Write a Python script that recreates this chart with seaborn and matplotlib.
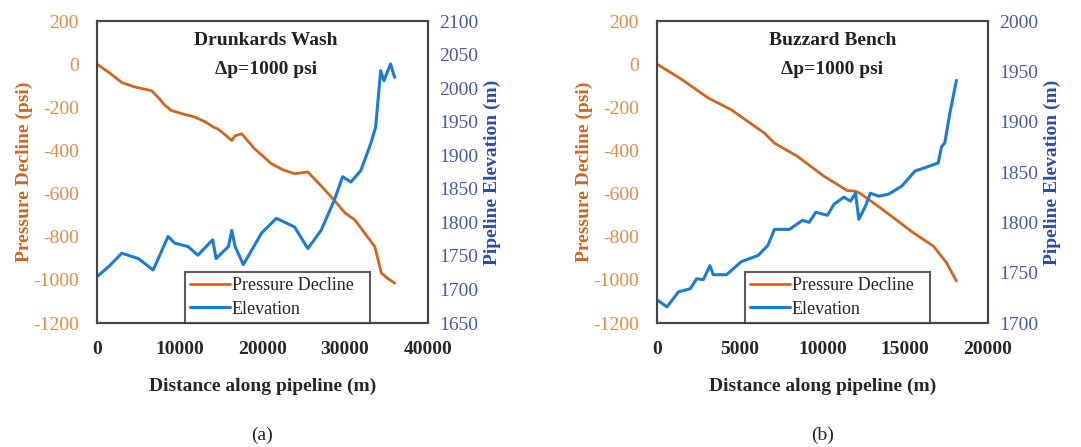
import pandas as pd
import seaborn as sns
import matplotlib.pyplot as plt

# Drunkards Wash (a)
dw_p_dist = [0, 1500, 3000, 4500, 6600, 7400, 8200, 9000, 10500, 11900, 13200, 14100, 14600,
             15200, 16300, 16700, 17500, 19000, 21100, 22500, 23900, 25500, 27000, 28700,
             30000, 31200, 32500, 33600, 34400, 35200, 36000]
dw_pressure = [0, -40, -85, -105, -123, -154, -190, -215, -232, -246, -270, -292, -300,
               -318, -354, -332, -323, -390, -462, -490, -508, -500, -560, -631,
               -690, -723, -790, -846, -969, -995, -1015]
dw_e_dist = [0, 1500, 3000, 5000, 6800, 8600, 9400, 11000, 12200, 14000, 14400, 15900, 16300,
             16700, 17700, 19900, 21700, 23900, 25500, 27100, 28700, 29700, 30700, 31900,
             33100, 33700, 34300, 34700, 35500, 36000]
dw_elev = [1719, 1735, 1754, 1746, 1729, 1779, 1769, 1764, 1751, 1774, 1746, 1764, 1788,
           1764, 1737, 1784, 1806, 1793, 1761, 1788, 1833, 1868, 1860, 1877,
           1917, 1942, 2026, 2011, 2036, 2016]

# Buzzard Bench (b)
bb_p_dist = [0, 1400, 3100, 4500, 6500, 7100, 8500, 10100, 11500, 12000, 12300, 13500, 15500,
             16700, 17500, 18100]
bb_pressure = [0, -66, -157, -212, -320, -366, -428, -520, -586, -589, -600, -666, -782,
               -843, -920, -1005]
bb_e_dist = [0, 600, 1300, 2000, 2400, 2800, 3200, 3400, 4200, 5100, 6100, 6700, 7100, 8000,
             8800, 9200, 9600, 10300, 10700, 11300, 11700, 12000, 12200, 12600, 12900,
             13400, 14000, 14800, 15600, 16500, 17000, 17200, 17400, 17700, 18100]
bb_elev = [1723, 1716, 1731, 1734, 1744, 1743, 1757, 1748, 1748, 1761, 1767, 1777, 1793, 1793,
           1802, 1800, 1810, 1807, 1818, 1825, 1821, 1829, 1803, 1816, 1829,
           1826, 1828, 1836, 1851, 1856, 1859, 1875, 1879, 1908, 1941]

panels = [
    dict(p=(dw_p_dist, dw_pressure), e=(dw_e_dist, dw_elev), title='Drunkards Wash',
         xmax=40000, xstep=10000, elim=(1650, 2100), cap='(a)', left=0.0897, tx=0.51),
    dict(p=(bb_p_dist, bb_pressure), e=(bb_e_dist, bb_elev), title='Buzzard Bench',
         xmax=20000, xstep=5000, elim=(1700, 2000), cap='(b)', left=0.6078, tx=0.53),
]

sns.set_style('white')
plt.rcParams['font.family'] = ['Liberation Serif', 'DejaVu Serif']
plt.rcParams['axes.unicode_minus'] = False

orange = '#D0661E'
blue = '#1C7BD2'
orange_tk = '#E28A4A'
blue_tk = '#4A5AA8'
blue_lab = '#2C4BA5'

fig = plt.figure(figsize=(10.81, 4.47), dpi=100)
for pn in panels:
    ax = fig.add_axes([pn['left'], 0.2774, 0.306, 0.6756])
    ax2 = ax.twinx()
    dp = pd.DataFrame({'x': pn['p'][0], 'y': pn['p'][1]})
    de = pd.DataFrame({'x': pn['e'][0], 'y': pn['e'][1]})
    sns.lineplot(data=dp, x='x', y='y', ax=ax, color=orange, lw=2, label='Pressure Decline',
                 legend=False)
    sns.lineplot(data=de, x='x', y='y', ax=ax2, color=blue, lw=2.2, label='Elevation',
                 legend=False)
    ax.set_xlim(0, pn['xmax'])
    ax.set_xticks(range(0, pn['xmax'] + 1, pn['xstep']))
    ax.set_ylim(-1200, 200)
    ax.set_yticks(range(-1200, 201, 200))
    ax2.set_ylim(*pn['elim'])
    ax2.set_yticks(range(pn['elim'][0], pn['elim'][1] + 1, 50))
    for a in (ax, ax2):
        for s in a.spines.values():
            s.set_color('#444444')
            s.set_linewidth(1.5)
    ax.tick_params(axis='x', length=0, pad=13, labelsize=14)
    for t in ax.get_xticklabels():
        t.set_fontweight('bold')
    ax.tick_params(axis='y', length=0, pad=13, labelsize=14, labelcolor=orange_tk)
    ax2.tick_params(axis='y', length=0, pad=8, labelsize=14, labelcolor=blue_tk)
    ax.set_xlabel('Distance along pipeline (m)', fontsize=14, fontweight='bold', labelpad=14)
    ax.set_ylabel('Pressure Decline (psi)', fontsize=14, fontweight='bold', color=orange,
                  labelpad=0)
    ax2.set_ylabel('Pipeline Elevation (m)', fontsize=14, fontweight='bold', color=blue_lab,
                   labelpad=4)
    ax.text(pn['tx'], 0.935, pn['title'], transform=ax.transAxes, ha='center', va='center',
            fontsize=14, fontweight='bold', color='#222222')
    ax.text(pn['tx'], 0.84, '\u0394p=1000 psi', transform=ax.transAxes, ha='center',
            va='center', fontsize=14, fontweight='bold', color='#222222')
    h1, l1 = ax.get_legend_handles_labels()
    h2, l2 = ax2.get_legend_handles_labels()
    leg = ax2.legend(h1 + h2, l1 + l2, loc='lower left', bbox_to_anchor=(0.265, 0.0, 0.56, 0.17),
                     mode='expand', fontsize=13, frameon=True, fancybox=False,
                     handlelength=2.2, handletextpad=0.1, borderpad=0.3, labelspacing=0.35,
                     borderaxespad=0)
    leg.get_frame().set_edgecolor('#333333')
    leg.get_frame().set_linewidth(1.5)
    fig.text(pn['left'] + 0.153, 0.025, pn['cap'], ha='center', va='center', fontsize=14,
             color='#222222')

fig.savefig('out.png', dpi=100, facecolor='white')
